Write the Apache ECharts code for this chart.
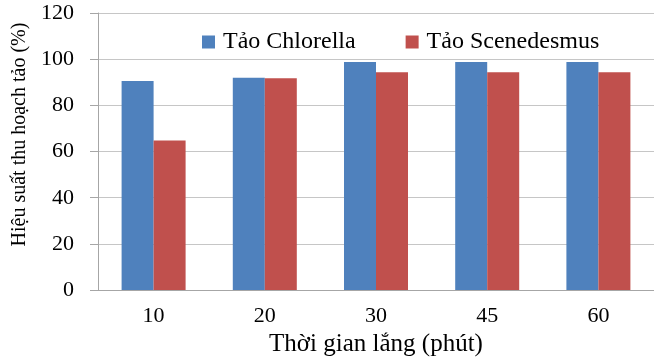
<!DOCTYPE html>
<html>
<head>
<meta charset="utf-8">
<script src="https://cdn.jsdelivr.net/npm/echarts@6/dist/echarts.min.js"></script>
<style>
  html, body { margin: 0; padding: 0; background: #ffffff; }
  #chart { width: 654px; height: 362px; }
</style>
</head>
<body>
<div id="chart"></div>
<script>
// Settling time (minutes) and harvesting efficiency (%) per algae species
const categories = ['10', '20', '30', '45', '60'];
const chlorella = [90.6, 92.0, 98.8, 98.8, 98.8];
const scenedesmus = [64.8, 91.7, 94.3, 94.3, 94.3];
const seriesNames = ['Tảo Chlorella', 'Tảo Scenedesmus'];
const yTicks = { min: 0, max: 120, step: 20 };

const serif = '"Liberation Serif", "Times New Roman", serif';
const chart = echarts.init(document.getElementById('chart'));

chart.setOption({
  animation: false,
  backgroundColor: '#ffffff',
  grid: { left: 98, right: -3, top: 13, bottom: 66, containLabel: false },
  legend: {
    left: 197,
    top: 25,
    itemWidth: 13,
    itemHeight: 13,
    itemGap: 50,
    icon: 'rect',
    textStyle: { fontFamily: serif, fontSize: 24, color: '#000000', padding: [0, 0, 0, 3] },
    data: seriesNames
  },
  xAxis: {
    type: 'category',
    data: categories,
    name: 'Thời gian lắng (phút)',
    nameLocation: 'middle',
    nameGap: 40,
    nameTextStyle: { fontFamily: serif, fontSize: 25, color: '#000000' },
    axisLine: { lineStyle: { color: '#a6a6a6', width: 1 } },
    axisTick: { show: false },
    axisLabel: { fontFamily: serif, fontSize: 22, color: '#000000', margin: 15 }
  },
  yAxis: {
    type: 'value',
    min: yTicks.min,
    max: yTicks.max,
    interval: yTicks.step,
    name: 'Hiệu suất thu hoạch tảo (%)',
    nameLocation: 'middle',
    nameGap: 67,
    nameTextStyle: { fontFamily: serif, fontSize: 20, color: '#000000', padding: [0, 0, 0, 34] },
    axisLine: { show: true, lineStyle: { color: '#a6a6a6', width: 1 } },
    axisTick: { show: true, length: 8, inside: false, lineStyle: { color: '#a6a6a6' } },
    axisLabel: { fontFamily: serif, fontSize: 22, color: '#000000', margin: 24 },
    splitLine: { lineStyle: { color: '#c6c6c6', width: 1 } }
  },
  series: [
    {
      name: seriesNames[0],
      type: 'bar',
      data: chlorella,
      barWidth: 32,
      barGap: '0%',
      itemStyle: { color: '#4f81bd' }
    },
    {
      name: seriesNames[1],
      type: 'bar',
      data: scenedesmus,
      barWidth: 32,
      barGap: '0%',
      itemStyle: { color: '#c0504d' }
    }
  ]
});
</script>
</body>
</html>
